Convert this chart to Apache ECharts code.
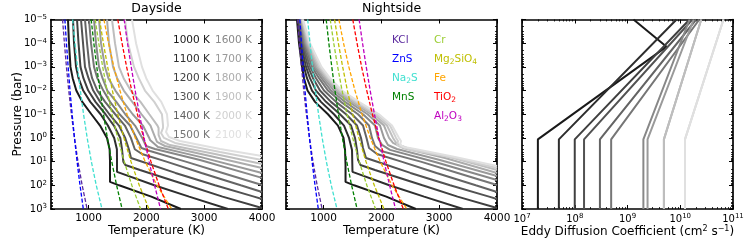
<!DOCTYPE html>
<html><head><meta charset="utf-8">
<script src="https://cdn.jsdelivr.net/npm/echarts@6/dist/echarts.min.js"></script>
<style>html,body{margin:0;padding:0;background:#fff}#c{width:747px;height:249px}</style>
</head><body><div id="c"></div>
<script>
// ---------- data ----------
const teqLabels = ['1000 K','1100 K','1200 K','1300 K','1400 K','1500 K','1600 K','1700 K','1800 K','1900 K','2000 K','2100 K'];
const grays = ['#1a1a1a','#2e2e2e','#404040','#525252','#646464','#767676','#888888','#9a9a9a','#acacac','#bebebe','#d0d0d0','#e0e0e0'];

// Dayside T-P profiles: [T (K), P (bar)]
const day1000 = [[644,1e-5],[661,1e-4],[687,1e-3],[725,3e-3],[788,1e-2],[891,3e-2],[1049,0.1],[1198,0.3],[1319,1],[1364,3],[1371,10],[1371,30],[1371,72],[1528,100],[2085,300],[2597,1000]];
const day1100 = [[731,1e-5],[748,1e-4],[783,1e-3],[827,3e-3],[907,1e-2],[1030,3e-2],[1208,0.1],[1334,0.3],[1443,1],[1490,3],[1492,10],[1492,27],[2137,100],[2739,300],[3412,1000]];
const day1200 = [[800,1e-5],[826,1e-4],[860,1e-3],[911,3e-3],[994,1e-2],[1120,3e-2],[1293,0.1],[1438,0.3],[1549,1],[1578,3],[1601,10],[1636,13.8],[1890,22.5],[2049,30],[2710,100],[3317,300],[4000,906]];
const day1300 = [[869,1e-5],[904,1e-4],[938,1e-3],[999,3e-3],[1080,1e-2],[1200,3e-2],[1360,0.1],[1525,0.3],[1634,1],[1698,3],[1734,7],[1890,9.4],[2502,30],[3189,100],[3862,300],[4000,378]];
const day1400 = [[938,1e-5],[973,1e-4],[1016,1e-3],[1061,3e-3],[1151,1e-2],[1286,3e-2],[1461,0.1],[1628,0.3],[1732,1],[1800,3],[1924,4.75],[2346,10],[2954,30],[3632,100],[4000,191]];
const day1500 = [[1007,1e-5],[1042,1e-4],[1094,1e-3],[1151,3e-3],[1255,1e-2],[1372,3e-2],[1537,0.1],[1717,0.3],[1827,1],[1914,2.65],[2063,3.55],[2680,10],[3320,30],[4000,97]];
const day1600 = [[1094,1e-5],[1128,1e-4],[1180,1e-3],[1241,3e-3],[1324,1e-2],[1480,3e-2],[1635,0.1],[1803,0.3],[1928,1],[1994,2.19],[2149,2.92],[2928,8.5],[4000,48.5]];
const day1700 = [[1180,1e-5],[1215,1e-4],[1284,1e-3],[1343,3e-3],[1464,1e-2],[1601,3e-2],[1763,0.1],[1940,0.3],[2049,1],[2063,1.22],[2201,2.4],[2928,6.3],[4000,30]];
const day1800 = [[1319,1e-5],[1353,1e-4],[1423,1e-3],[1495,3e-3],[1609,1e-2],[1756,3e-2],[1916,0.1],[2071,0.3],[2154,1],[2184,1.48],[2322,2.19],[3101,5.76],[4000,18.6]];
const day1900 = [[1405,1e-5],[1457,1e-4],[1526,1e-3],[1606,3e-3],[1730,1e-2],[1898,3e-2],[2051,0.1],[2192,0.3],[2211,0.38],[2211,0.75],[2253,1.35],[2409,2.0],[3187,4.8],[4000,12.6]];
const day2000 = [[1630,1e-5],[1682,1e-4],[1786,1e-3],[1869,3e-3],[1975,1e-2],[2137,3e-2],[2269,0.1],[2288,0.3],[2288,0.38],[2253,0.62],[2305,1],[2495,1.62],[3274,3.9],[4000,8.5]];
const day2100 = [[1751,1e-5],[1821,1e-4],[1924,1e-3],[1997,3e-3],[2108,1e-2],[2258,3e-2],[2357,0.1],[2374,0.3],[2374,0.35],[2340,0.56],[2391,0.91],[2582,1.35],[3274,2.95],[4000,5.76]];

// Nightside T-P profiles
const night1000 = [[540,1e-5],[575,1e-4],[627,1e-3],[661,3e-3],[722,1e-2],[852,3e-2],[1076,0.1],[1249,0.3],[1345,1],[1371,3.2],[1380,13.8],[1380,72],[1528,100],[2085,300],[2597,1000]];
const night1100 = [[557,1e-5],[592,1e-4],[661,1e-3],[713,3e-3],[800,1e-2],[955,3e-2],[1180,0.1],[1353,0.3],[1440,1],[1492,3.2],[1500,27],[2137,100],[2739,300],[3412,1000]];
const night1200 = [[566,1e-5],[609,1e-4],[696,1e-3],[765,3e-3],[869,1e-2],[1042,3e-2],[1284,0.1],[1475,0.3],[1544,1],[1578,3.2],[1596,8.5],[1636,13.8],[1890,22.5],[2049,30],[2710,100],[3317,300],[4000,906]];
const night1300 = [[575,1e-5],[627,1e-4],[731,1e-3],[817,3e-3],[938,1e-2],[1128,3e-2],[1388,0.1],[1578,0.3],[1648,1],[1682,2.65],[1734,7],[1890,9.4],[2502,30],[3189,100],[3862,300],[4000,378]];
const night1400 = [[583,1e-5],[644,1e-4],[765,1e-3],[869,3e-3],[1007,1e-2],[1215,3e-2],[1492,0.1],[1682,0.3],[1743,1],[1786,2.65],[1924,4.75],[2346,10],[2954,30],[3632,100],[4000,191]];
const night1500 = [[592,1e-5],[661,1e-4],[800,1e-3],[921,3e-3],[1076,1e-2],[1301,3e-2],[1596,0.1],[1786,0.3],[1838,1],[1890,2.19],[1994,3.55],[2680,10],[3320,30],[4000,97]];
const night1600 = [[601,1e-5],[679,1e-4],[834,1e-3],[964,3e-3],[1128,1e-2],[1371,3e-2],[1682,0.1],[1890,0.3],[1942,1],[2011,1.98],[2149,3.2],[2928,10.4],[4000,59.6]];
const night1700 = [[609,1e-5],[696,1e-4],[860,1e-3],[999,3e-3],[1180,1e-2],[1440,3e-2],[1760,0.1],[1976,0.3],[2045,1],[2114,1.98],[2270,2.92],[3012,8.5],[4000,40.4]];
const night1800 = [[618,1e-5],[713,1e-4],[886,1e-3],[1033,3e-3],[1223,1e-2],[1492,3e-2],[1821,0.1],[2045,0.3],[2132,1],[2201,1.63],[2374,2.65],[3101,7],[4000,30]];
const night1900 = [[627,1e-5],[731,1e-4],[912,1e-3],[1059,3e-3],[1258,1e-2],[1535,3e-2],[1872,0.1],[2097,0.3],[2201,1],[2236,1.35],[2270,1.8],[2443,2.65],[3187,6.35],[4000,22.5]];
const night2000 = [[635,1e-5],[748,1e-4],[938,1e-3],[1085,3e-3],[1293,1e-2],[1578,3e-2],[1916,0.1],[2149,0.3],[2253,1],[2288,1.35],[2270,1.98],[2340,2.41],[2513,3.2],[3274,7],[4000,18.6]];
const night2100 = [[644,1e-5],[765,1e-4],[964,1e-3],[1111,3e-3],[1319,1e-2],[1613,3e-2],[1959,0.1],[2184,0.3],[2305,1],[2340,1.35],[2322,1.98],[2391,2.41],[2582,2.92],[3274,6.35],[4000,15.3]];

// Condensation curves: temperature (K) at each pressure in condP
const condP = [1e-5,1e-4,1e-3,1e-2,1e-1,1,10,100,1000];
const condKCl = [550,582,617,657,703,756,817,889,975];
const condZnS = [590,617,647,679,716,756,801,852,909];
const condNa2S = [725,765,808,858,913,976,1048,1133,1232];
const condMnS = [1045,1091,1142,1197,1258,1325,1401,1485,1580];
const condCr = [1115,1176,1244,1320,1406,1504,1617,1748,1900];
const condMg2SiO4 = [1190,1256,1330,1412,1505,1611,1734,1877,2045];
const condFe = [1265,1345,1437,1543,1665,1808,1979,2184,2438];
const condTiO2 = [1505,1579,1658,1747,1845,1955,2079,2220,2380];
const condAl2O3 = [1615,1674,1738,1806,1880,1960,2047,2142,2245];
const condNames = ['KCl','ZnS','Na{s|2}S','MnS','Cr','Mg{s|2}SiO{s|4}','Fe','TiO{s|2}','Al{s|2}O{s|3}'];
const condColors = ['#5b2a9e','#0000ff','#40e0d0','#008000','#9acd32','#bfbf00','#ffa500','#ff0000','#bf00bf'];

// Eddy diffusion profiles: [Kzz (cm^2 s^-1), P (bar)]
const kzz1000 = [[2e7,1000],[2e7,1.15],[5.5e9,1.4e-4],[1.3e9,1e-5]];
const kzz1100 = [[5e7,1000],[5e7,1.15],[8.5e9,1e-5]];
const kzz1200 = [[1e8,1000],[1e8,1.15],[1.5e10,1e-5]];
const kzz1300 = [[1.5e8,1000],[1.5e8,1.15],[1.7e10,1e-5]];
const kzz1400 = [[3e8,1000],[3e8,1.15],[2.0e10,1e-5]];
const kzz1500 = [[4.9e8,1000],[4.9e8,1.15],[2.3e10,1e-5]];
const kzz1600 = [[2e9,1000],[2e9,1.15],[1.5e10,1e-5]];
const kzz1700 = [[2.4e9,1000],[2.4e9,1.15],[1.8e10,1e-5]];
const kzz1800 = [[4.9e9,1000],[4.9e9,1.15],[2.5e10,1e-5]];
const kzz1900 = [[4.9e9,1000],[4.9e9,1.15],[2.5e10,1e-5]];
const kzz2000 = [[1.23e10,1000],[1.23e10,1.15],[6.6e10,1e-5]];
const kzz2100 = [[1.23e10,1000],[1.23e10,1.15],[6.6e10,1e-5]];

const tempTicks = [1000,2000,3000,4000];
const pressTicks = [1e-5,1e-4,1e-3,1e-2,1e-1,1,10,100,1000];
const kzzTicks = [1e7,1e8,1e9,1e10,1e11];

// ---------- build ----------
const dayProfiles = [day1000,day1100,day1200,day1300,day1400,day1500,day1600,day1700,day1800,day1900,day2000,day2100];
const nightProfiles = [night1000,night1100,night1200,night1300,night1400,night1500,night1600,night1700,night1800,night1900,night2000,night2100];
const condCurves = [condKCl,condZnS,condNa2S,condMnS,condCr,condMg2SiO4,condFe,condTiO2,condAl2O3];
const kzzProfiles = [kzz1000,kzz1100,kzz1200,kzz1300,kzz1400,kzz1500,kzz1600,kzz1700,kzz1800,kzz1900,kzz2000,kzz2100];

const FONT = 'DejaVu Sans';
function minorLog(lo, hi){ const out=[]; for(let e=lo;e<hi;e++){ for(let m=2;m<=9;m++) out.push(m*Math.pow(10,e)); } return out; }
function powLabel(v){ const e=Math.round(Math.log10(v)); return '{b|10}{s|'+(e<0?'\u2212'+(-e):e)+'}'; }
const richLab = {b:{fontSize:10,fontFamily:FONT,color:'#000',lineHeight:12},s:{fontSize:7,fontFamily:FONT,color:'#000',verticalAlign:'top',lineHeight:8}};

const grids = [51,286,522].map(l=>({left:l,top:19.5,width:211,height:189.5,outerBoundsMode:'none',containLabel:false}));
const xAxes=[], yAxes=[];
const lineAx = {show:true,lineStyle:{color:'#000',width:1.7}};
function addX(gi, cfg){
  const isLog = cfg.type==='log';
  const base = {gridIndex:gi,type:cfg.type,min:cfg.min,max:cfg.max,splitLine:{show:false}};
  const main = Object.assign({},base,{position:'bottom',axisLine:lineAx,
    axisTick:{inside:true,length:4,lineStyle:{color:'#000',width:1},customValues:cfg.ticks},
    axisLabel:{customValues:cfg.ticks,margin:4,fontSize:10.5,fontFamily:FONT,color:'#000',
      formatter:isLog?powLabel:(v=>String(v)),rich:richLab,hideOverlap:false,showMinLabel:true,showMaxLabel:true},
    name:cfg.name,nameLocation:'middle',nameGap:cfg.nameGap,nameMoveOverlap:false,nameTextStyle:{fontSize:12,fontFamily:FONT,color:'#000',rich:cfg.nameRich}});
  xAxes.push(main); const idx = xAxes.length-1;
  xAxes.push(Object.assign({},base,{position:'top',axisLine:lineAx,axisTick:{inside:true,length:4,lineStyle:{color:'#000',width:1},customValues:cfg.ticks},axisLabel:{show:false}}));
  if(cfg.minor){
    xAxes.push(Object.assign({},base,{position:'bottom',axisLine:{show:false},axisTick:{inside:true,length:2,lineStyle:{color:'#000',width:0.8},customValues:cfg.minor},axisLabel:{show:false}}));
    xAxes.push(Object.assign({},base,{position:'top',axisLine:{show:false},axisTick:{inside:true,length:2,lineStyle:{color:'#000',width:0.8},customValues:cfg.minor},axisLabel:{show:false}}));
  }
  return idx;
}
function addY(gi, showLabels, name){
  const base = {gridIndex:gi,type:'log',min:1e-5,max:1e3,inverse:true,splitLine:{show:false}};
  const main = Object.assign({},base,{position:'left',axisLine:lineAx,
    axisTick:{inside:true,length:4,lineStyle:{color:'#000',width:1},customValues:pressTicks},
    axisLabel:{show:showLabels,customValues:pressTicks,margin:4,formatter:powLabel,rich:richLab,showMinLabel:true,showMaxLabel:true,hideOverlap:false}});
  if(name){ Object.assign(main,{name:name,nameLocation:'middle',nameGap:27,nameMoveOverlap:false,nameRotate:90,nameTextStyle:{fontSize:12,fontFamily:FONT,color:'#000'}}); }
  yAxes.push(main); const idx=yAxes.length-1;
  const minor = minorLog(-5,3);
  yAxes.push(Object.assign({},base,{position:'right',axisLine:lineAx,axisTick:{inside:true,length:4,lineStyle:{color:'#000',width:1},customValues:pressTicks},axisLabel:{show:false}}));
  yAxes.push(Object.assign({},base,{position:'left',axisLine:{show:false},axisTick:{inside:true,length:2,lineStyle:{color:'#000',width:0.8},customValues:minor},axisLabel:{show:false}}));
  yAxes.push(Object.assign({},base,{position:'right',axisLine:{show:false},axisTick:{inside:true,length:2,lineStyle:{color:'#000',width:0.8},customValues:minor},axisLabel:{show:false}}));
  return idx;
}
const x0 = addX(0,{type:'value',min:350,max:4000,ticks:tempTicks,name:'Temperature (K)',nameGap:16});
const x1 = addX(1,{type:'value',min:350,max:4000,ticks:tempTicks,name:'Temperature (K)',nameGap:16});
const x2 = addX(2,{type:'log',min:1e7,max:1e11,ticks:kzzTicks,minor:minorLog(7,11),
  name:'{n|Eddy Diffusion Coefficient (cm}{s|2}{n| s}{s|\u22121}{n|)}',nameGap:16,
  nameRich:{n:{fontSize:12,fontFamily:FONT,color:'#000',lineHeight:14},s:{fontSize:8,fontFamily:FONT,color:'#000',verticalAlign:'top',lineHeight:9}}});
const y0 = addY(0,true,'Pressure (bar)');
const y1 = addY(1,false);
const y2 = addY(2,false);

const series=[];
function addProfiles(list, xi, yi){
  list.forEach((d,i)=>series.push({type:'line',xAxisIndex:xi,yAxisIndex:yi,data:d,symbol:'none',silent:true,clip:true,
    lineStyle:{color:grays[i],width:2},z:2}));
}
addProfiles(dayProfiles,x0,y0);
addProfiles(nightProfiles,x1,y1);
[x0,x1].forEach((xi,k)=>{
  const yi = k===0?y0:y1;
  condCurves.forEach((c,j)=>series.push({type:'line',xAxisIndex:xi,yAxisIndex:yi,data:c.map((t,m)=>[t,condP[m]]),symbol:'none',silent:true,clip:true,
    lineStyle:{color:condColors[j],width:1.3,type:[4,2]},z:3}));
});
addProfiles(kzzProfiles,x2,y2);

// legends as text
const graphic=[];
teqLabels.forEach((t,i)=>{
  const col = i<6?0:1, row=i%6;
  graphic.push({type:'text',x:col?215:173,y:40+row*19.1,style:{text:t,fill:grays[i],font:'10.5px "DejaVu Sans"',verticalAlign:'middle',align:'left'}});
});
condNames.forEach((t,i)=>{
  const col = i<4?0:1, row = i<4?i:i-4;
  graphic.push({type:'text',x:col?434:392,y:40+row*19.1,style:{text:'{a|'+t.replace(/\{s\|(\d)\}/g,'}{s|$1}{a|')+'}',verticalAlign:'middle',align:'left',
    rich:{a:{fill:condColors[i],color:condColors[i],fontSize:10.5,fontFamily:FONT},s:{fill:condColors[i],color:condColors[i],fontSize:7.5,fontFamily:FONT,verticalAlign:'bottom',padding:[5,0,0,0]}}}});
});

const option = {
  animation:false,
  backgroundColor:'#fff',
  title:[
    {text:'Dayside',left:156.5,top:2.5,textAlign:'center',padding:0,textStyle:{fontSize:12.5,fontWeight:'normal',fontFamily:FONT,color:'#000'}},
    {text:'Nightside',left:391.5,top:2.5,textAlign:'center',padding:0,textStyle:{fontSize:12.5,fontWeight:'normal',fontFamily:FONT,color:'#000'}}
  ],
  grid:grids, xAxis:xAxes, yAxis:yAxes, series:series, graphic:graphic
};
const chart = echarts.init(document.getElementById('c'),null,{renderer:'canvas',width:747,height:249});
chart.setOption(option);
</script></body></html>
